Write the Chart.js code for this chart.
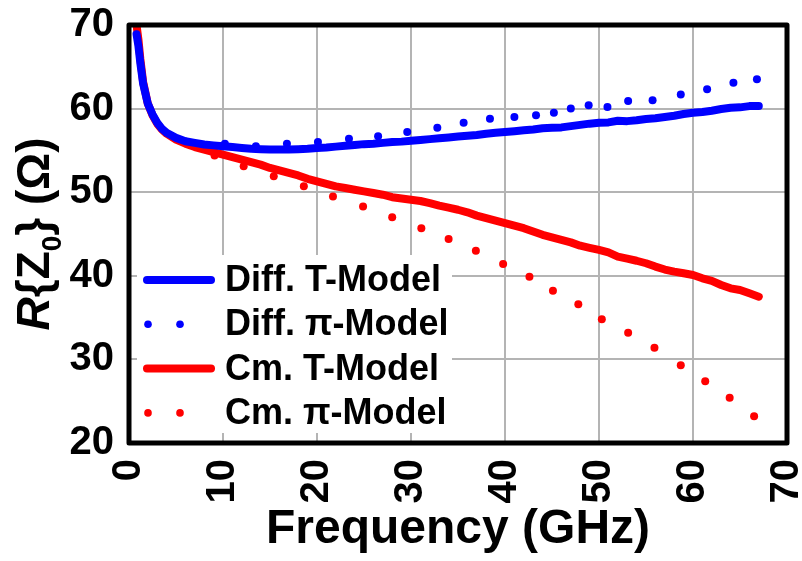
<!DOCTYPE html>
<html>
<head>
<meta charset="utf-8">
<script src="https://cdn.jsdelivr.net/npm/chart.js@4.4.0/dist/chart.umd.min.js"></script>
<style>
html, body { margin: 0; padding: 0; background: #fff; }
#wrap { width: 802px; height: 561px; position: relative; }
</style>
</head>
<body>
<div id="wrap"><canvas id="chart_z0"></canvas></div>
<script>
var FAMILY = "'Liberation Sans', Arial, sans-serif";

// T-model curves (GHz, Ohm)
var freqT = [0.8, 1.0, 1.2, 1.5, 2, 2.5, 3, 3.5, 4, 5, 6, 7, 8, 9, 10, 11, 12, 13, 14, 15, 16, 17, 18, 19, 20,
    21, 22, 23, 24, 25, 26, 27, 28, 29, 30, 31, 32, 33, 34, 35, 36, 37, 38, 39, 40, 41, 42, 43, 44, 45,
    46, 47, 48, 49, 50, 51, 52, 53, 54, 55, 56, 57, 58, 59, 60, 61, 62, 63, 64, 65, 66, 67];
var diffT = [68.9, 67.5, 65.5, 63.0, 60.6, 59.3, 58.3, 57.6, 57.1, 56.5, 56.1, 55.9, 55.7, 55.6, 55.5, 55.4, 55.3, 55.2, 55.15, 55.1, 55.1, 55.1, 55.15, 55.2, 55.3,
    55.35, 55.45, 55.55, 55.65, 55.75, 55.8, 55.9, 56.0, 56.05, 56.15, 56.25, 56.35, 56.45, 56.55, 56.65, 56.75, 56.85, 57.0, 57.1, 57.2, 57.3, 57.4, 57.5, 57.65, 57.7,
    57.75, 57.9, 58.05, 58.2, 58.3, 58.35, 58.55, 58.5, 58.6, 58.75, 58.85, 59.0, 59.15, 59.35, 59.5, 59.6, 59.75, 59.95, 60.1, 60.15, 60.3, 60.3];
var cmT = [70.0, 68.3, 66.0, 63.2, 60.6, 59.2, 58.2, 57.5, 57.0, 56.3, 55.8, 55.4, 55.1, 54.8, 54.5, 54.2, 53.9, 53.6, 53.3, 52.9, 52.6, 52.3, 52.0, 51.6, 51.3,
    51.0, 50.7, 50.5, 50.3, 50.1, 49.9, 49.7, 49.4, 49.25, 49.1, 48.95, 48.7, 48.4, 48.15, 47.9, 47.6, 47.2, 46.9, 46.6, 46.3, 46.0, 45.7, 45.3, 44.9, 44.6,
    44.3, 44.0, 43.6, 43.35, 43.1, 42.8, 42.3, 42.05, 41.8, 41.5, 41.1, 40.75, 40.5, 40.3, 40.1, 39.7, 39.4, 38.9, 38.5, 38.3, 37.9, 37.5];

// pi-model points
var freqDiffPi = [10.2, 13.5, 16.8, 20.1, 23.4, 26.5, 29.6, 32.8, 35.6, 38.4, 41.0, 43.3, 45.2, 47.0, 48.9, 50.9, 53.1, 55.7, 58.7, 61.5, 64.3, 66.8];
var diffPi = [55.8, 55.5, 55.8, 56.0, 56.4, 56.7, 57.2, 57.7, 58.3, 58.8, 59.0, 59.2, 59.5, 60.0, 60.4, 60.2, 60.9, 61.0, 61.7, 62.3, 63.1, 63.5];
var freqCmPi = [9.1, 12.2, 15.4, 18.6, 21.7, 24.9, 28.0, 31.1, 34.0, 36.9, 39.8, 42.6, 45.1, 47.8, 50.3, 53.1, 55.9, 58.7, 61.3, 63.9, 66.5];
var cmPi = [54.4, 53.1, 51.9, 50.7, 49.5, 48.3, 47.0, 45.7, 44.4, 43.0, 41.4, 39.9, 38.2, 36.6, 34.8, 33.2, 31.4, 29.3, 27.4, 25.4, 23.2];

var xTicks = [0, 10, 20, 30, 40, 50, 60, 70];
var yTicks = [20, 30, 40, 50, 60, 70];
var seriesLabels = ['Diff. T-Model', 'Diff. \u03c0-Model', 'Cm. T-Model', 'Cm. \u03c0-Model'];
var seriesColors = ['#0000ff', '#0000ff', '#ff0000', '#ff0000'];
var seriesDotted = [false, true, false, true];

function toPoints(xs, ys) {
    return xs.map(function (x, i) { return { x: x, y: ys[i] }; });
}

function lineSet(i, xs, ys, order) {
    return {
        label: seriesLabels[i],
        data: toPoints(xs, ys),
        borderColor: seriesColors[i],
        backgroundColor: seriesColors[i],
        borderWidth: 8,
        borderCapStyle: 'round',
        borderJoinStyle: 'round',
        pointRadius: 0,
        tension: 0,
        order: order
    };
}

function dotSet(i, xs, ys, order) {
    return {
        label: seriesLabels[i],
        data: toPoints(xs, ys),
        showLine: false,
        borderColor: seriesColors[i],
        backgroundColor: seriesColors[i],
        borderWidth: 0,
        pointRadius: 4,
        order: order
    };
}

var legendBox = {
    id: 'legendBox',
    beforeDatasetsDraw: function (chart) {
        var ctx = chart.ctx, a = chart.chartArea;
        ctx.save();
        ctx.fillStyle = '#fff';
        ctx.fillRect(a.left + 8, a.top + 230, 315, 178);
        ctx.restore();
    },
    afterDatasetsDraw: function (chart) {
        var ctx = chart.ctx, a = chart.chartArea;
        ctx.save();
        for (var i = 0; i < seriesLabels.length; i++) {
            var y = a.top + 255 + i * 44.3;
            ctx.strokeStyle = seriesColors[i];
            ctx.fillStyle = seriesColors[i];
            if (seriesDotted[i]) {
                [19, 51].forEach(function (dx) {
                    ctx.beginPath();
                    ctx.arc(a.left + dx, y, 3.8, 0, Math.PI * 2);
                    ctx.fill();
                });
            } else {
                ctx.lineWidth = 8;
                ctx.lineCap = 'round';
                ctx.beginPath();
                ctx.moveTo(a.left + 18, y);
                ctx.lineTo(a.left + 82, y);
                ctx.stroke();
            }
            ctx.fillStyle = '#000';
            ctx.font = 'bold 36px ' + FAMILY;
            ctx.textBaseline = 'middle';
            ctx.textAlign = 'left';
            ctx.fillText(seriesLabels[i], a.left + 96, y + 1);
        }
        // plot frame
        ctx.strokeStyle = '#000';
        ctx.lineWidth = 5;
        ctx.lineJoin = 'round';
        ctx.strokeRect(a.left, a.top, a.right - a.left, a.bottom - a.top);
        ctx.restore();
    },
    afterDraw: function (chart) {
        // y axis title: R{Z0} (Ω)
        var ctx = chart.ctx, a = chart.chartArea;
        var parts = [
            { t: 'R', f: 'italic bold 46px ' + FAMILY, dy: 0 },
            { t: '{Z', f: 'bold 46px ' + FAMILY, dy: 0 },
            { t: '0', f: 'bold 28px ' + FAMILY, dy: 12 },
            { t: '} (\u03a9)', f: 'bold 46px ' + FAMILY, dy: 0 }
        ];
        ctx.save();
        ctx.translate(49, (a.top + a.bottom) / 2);
        ctx.rotate(-Math.PI / 2);
        ctx.fillStyle = '#000';
        ctx.textBaseline = 'alphabetic';
        ctx.textAlign = 'left';
        var total = 0;
        parts.forEach(function (p) { ctx.font = p.f; p.w = ctx.measureText(p.t).width; total += p.w; });
        var x = -total / 2;
        parts.forEach(function (p) { ctx.font = p.f; ctx.fillText(p.t, x, p.dy); x += p.w; });
        ctx.restore();
    }
};

var chart_z0 = new Chart(document.getElementById('chart_z0'), {
    type: 'line',
    data: {
        datasets: [
            lineSet(0, freqT, diffT, 2),
            dotSet(1, freqDiffPi, diffPi, 0),
            lineSet(2, freqT, cmT, 3),
            dotSet(3, freqCmPi, cmPi, 1)
        ]
    },
    options: {
        animation: false,
        responsive: true,
        maintainAspectRatio: false,
        layout: { padding: { top: 25, right: 15, left: 0, bottom: 0 } },
        plugins: {
            legend: { display: false },
            tooltip: { enabled: false }
        },
        scales: {
            x: {
                type: 'linear',
                min: 0,
                max: 70,
                afterBuildTicks: function (s) { s.ticks = xTicks.map(function (v) { return { value: v }; }); },
                ticks: {
                    minRotation: 90,
                    maxRotation: 90,
                    padding: 16,
                    color: '#000',
                    font: { family: FAMILY, size: 40, weight: 'bold' }
                },
                grid: { color: '#b4b4b4', lineWidth: 2, drawTicks: false },
                border: { display: false },
                title: {
                    display: true,
                    text: 'Frequency (GHz)',
                    color: '#000',
                    font: { family: FAMILY, size: 48, weight: 'bold' },
                    padding: { top: 0, bottom: 2 }
                },
                afterFit: function (s) { s.height = 118; s.paddingLeft = 0; s.paddingRight = 0; }
            },
            y: {
                type: 'linear',
                min: 20,
                max: 70,
                afterBuildTicks: function (s) { s.ticks = yTicks.map(function (v) { return { value: v }; }); },
                ticks: {
                    padding: 15,
                    color: '#000',
                    font: { family: FAMILY, size: 40, weight: 'bold' }
                },
                grid: { color: '#b4b4b4', lineWidth: 2, drawTicks: false },
                border: { display: false },
                afterFit: function (s) { s.width = 129; s.paddingTop = 0; s.paddingBottom = 0; }
            }
        }
    },
    plugins: [legendBox]
});
</script>
</body>
</html>
